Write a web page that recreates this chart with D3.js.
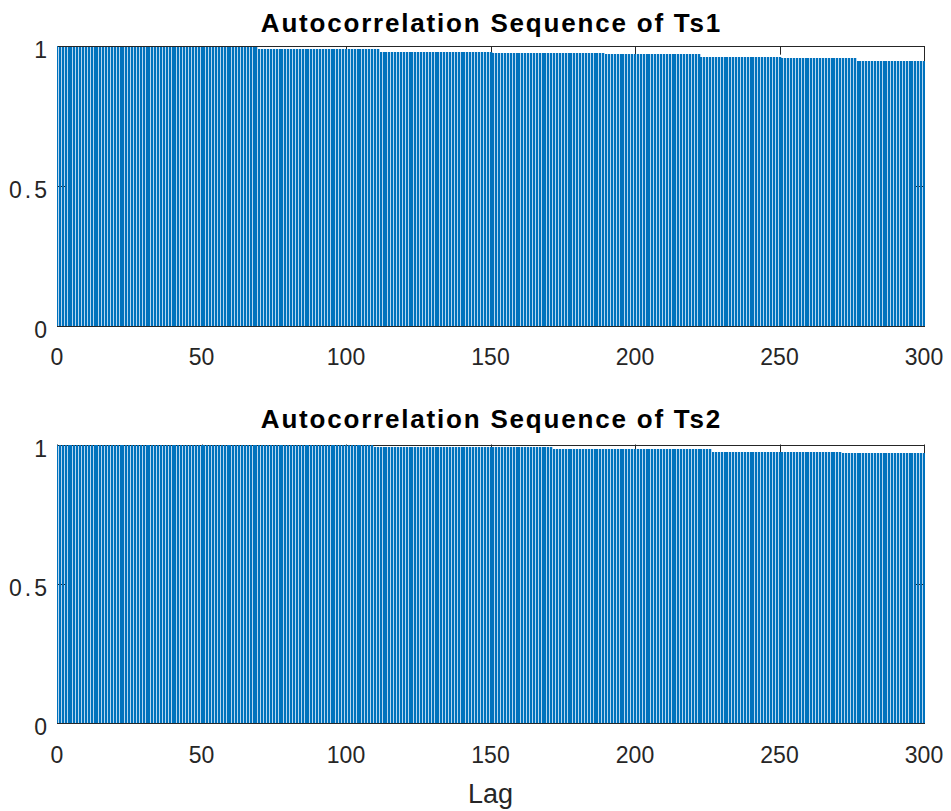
<!DOCTYPE html>
<html>
<head>
<meta charset="utf-8">
<script src="https://cdn.jsdelivr.net/npm/d3@7"></script>
<style>
html, body { margin: 0; padding: 0; background: #fff; }
svg { display: block; }
text { font-family: "Liberation Sans", Arial, Helvetica, sans-serif; }
</style>
</head>
<body>
<svg id="chart" width="951" height="811"></svg>
<script>
// ---- data ----
const titles = ["Autocorrelation Sequence of Ts1", "Autocorrelation Sequence of Ts2"];
const xLabel = "Lag";
const xTicks = [0, 50, 100, 150, 200, 250, 300];
const yTicks = [0, 0.5, 1];
const yTickLabels = ["0", "0.5", "1"];

const acfTs1 = [
1,.998,.998,.998,.998,.998,.998,.998,.998,.998,
.998,.998,.998,.998,.998,.998,.998,.998,.998,.998,
.998,.998,.998,.998,.998,.998,.998,.998,.998,.998,
.998,.998,.998,.998,.998,.998,.998,.998,.998,.998,
.998,.998,.998,.998,.998,.998,.998,.998,.998,.998,
.998,.998,.998,.998,.998,.998,.998,.998,.998,.998,
.998,.998,.998,.998,.998,.998,.998,.998,.998,.998,
.988,.988,.988,.988,.988,.988,.988,.988,.988,.988,
.988,.988,.988,.988,.988,.988,.988,.988,.988,.988,
.988,.988,.988,.988,.988,.988,.988,.988,.988,.988,
.988,.988,.988,.988,.988,.988,.988,.988,.988,.988,
.988,.988,.980,.980,.980,.980,.980,.980,.980,.980,
.980,.980,.980,.980,.980,.980,.980,.980,.980,.980,
.980,.980,.980,.980,.980,.980,.980,.980,.980,.980,
.980,.980,.980,.980,.980,.980,.980,.980,.980,.980,
.980,.974,.974,.974,.974,.974,.974,.974,.974,.974,
.974,.974,.974,.974,.974,.974,.974,.974,.974,.974,
.974,.974,.974,.974,.974,.974,.974,.974,.974,.974,
.974,.974,.974,.974,.974,.974,.974,.974,.974,.974,
.971,.971,.971,.971,.971,.971,.971,.971,.971,.971,
.971,.971,.971,.971,.971,.971,.971,.971,.971,.971,
.971,.971,.971,.971,.971,.971,.971,.971,.971,.971,
.971,.971,.971,.962,.962,.962,.962,.962,.962,.962,
.962,.962,.962,.962,.962,.962,.962,.962,.962,.962,
.962,.962,.962,.962,.962,.962,.962,.962,.962,.962,
.962,.956,.956,.956,.956,.956,.956,.956,.956,.956,
.956,.956,.956,.956,.956,.956,.956,.956,.956,.956,
.956,.956,.956,.956,.956,.956,.956,.948,.948,.948,
.948,.948,.948,.948,.948,.948,.948,.948,.948,.948,
.948,.948,.948,.948,.948,.948,.948,.948,.948,.948,
.948
];

const acfTs2 = [
1,.999,.999,.999,.999,.999,.999,.999,.999,.999,
.999,.999,.999,.999,.999,.999,.999,.999,.999,.999,
.999,.999,.999,.999,.999,.999,.999,.999,.999,.999,
.999,.999,.999,.999,.999,.999,.999,.999,.999,.999,
.999,.999,.999,.999,.999,.999,.999,.999,.999,.999,
.999,.999,.999,.999,.999,.999,.999,.999,.999,.999,
.999,.999,.999,.999,.999,.999,.999,.999,.999,.999,
.999,.999,.999,.999,.999,.999,.999,.999,.999,.999,
.999,.999,.999,.999,.999,.999,.999,.999,.999,.999,
.999,.999,.999,.999,.999,.999,.999,.999,.999,.999,
.999,.999,.999,.999,.999,.999,.999,.999,.999,.999,
.991,.991,.991,.991,.991,.991,.991,.991,.991,.991,
.991,.991,.991,.991,.991,.991,.991,.991,.991,.991,
.991,.991,.991,.991,.991,.991,.991,.991,.991,.991,
.991,.991,.991,.991,.991,.991,.991,.991,.991,.991,
.991,.991,.991,.991,.991,.991,.991,.991,.991,.991,
.991,.991,.991,.991,.991,.991,.991,.991,.991,.991,
.991,.991,.983,.983,.983,.983,.983,.983,.983,.983,
.983,.983,.983,.983,.983,.983,.983,.983,.983,.983,
.983,.983,.983,.983,.983,.983,.983,.983,.983,.983,
.983,.983,.983,.983,.983,.983,.983,.983,.983,.983,
.983,.983,.983,.983,.983,.983,.983,.983,.983,.983,
.983,.983,.983,.983,.983,.983,.983,.974,.974,.974,
.974,.974,.974,.974,.974,.974,.974,.974,.974,.974,
.974,.974,.974,.974,.974,.974,.974,.974,.974,.974,
.974,.974,.974,.974,.974,.974,.974,.974,.974,.974,
.974,.974,.974,.974,.974,.974,.974,.974,.974,.974,
.974,.974,.968,.968,.968,.968,.968,.968,.968,.968,
.968,.968,.968,.968,.968,.968,.968,.968,.968,.968,
.968,.968,.968,.968,.968,.968,.968,.968,.968,.968,
.968
];

const series = [acfTs1, acfTs2];

// ---- layout ----
const svg = d3.select("#chart");
const axisColor = "#262626";
const barColor = "#0072BD";
const gapColor = "#b6d6f0";
const left = 57, right = 924;
const panels = [
  { top: 46, bottom: 326, titleY: 32, tickLabelY: 365 },
  { top: 444.5, bottom: 723, titleY: 428, tickLabelY: 763 }
];

panels.forEach((p, pi) => {
  const data = series[pi];
  const lags = d3.range(data.length);
  const x = d3.scaleLinear().domain([0, 300]).range([left, right]);
  const y = d3.scaleLinear().domain([0, 1]).range([p.bottom, p.top]);
  const tickLen = 8.7;
  const y0 = Math.round(y(0));

  const g = svg.append("g");
  const clipId = "clip" + pi;
  svg.append("clipPath").attr("id", clipId)
    .append("rect").attr("x", left).attr("y", p.top - 1)
    .attr("width", right - left + 1).attr("height", p.bottom - p.top + 2);

  const barLeft = d => Math.round(x(d) - 1);

  // light under-layer (antialiased gaps between bars)
  g.append("g").attr("clip-path", `url(#${clipId})`).attr("shape-rendering", "crispEdges")
    .selectAll("rect").data(lags).join("rect")
    .attr("x", d => barLeft(d))
    .attr("width", 3)
    .attr("y", d => Math.round(y(data[d])))
    .attr("height", d => y0 - Math.round(y(data[d])))
    .attr("fill", gapColor);

  // axes box (MATLAB layer bottom: under the bars)
  const ax = g.append("g").attr("stroke", axisColor).attr("stroke-width", 1).attr("fill", "none");
  ax.append("rect").attr("x", left + 0.5).attr("y", Math.round(p.top) + 0.5)
    .attr("width", right - left).attr("height", Math.round(p.bottom) - Math.round(p.top));
  xTicks.forEach(t => {
    const xx = Math.round(x(t)) + 0.5;
    ax.append("line").attr("x1", xx).attr("x2", xx).attr("y1", p.top).attr("y2", p.top + tickLen);
    ax.append("line").attr("x1", xx).attr("x2", xx).attr("y1", p.bottom).attr("y2", p.bottom - tickLen);
  });
  yTicks.forEach(t => {
    const yy = Math.round(y(t)) + 0.5;
    ax.append("line").attr("x1", left).attr("x2", left + tickLen).attr("y1", yy).attr("y2", yy);
    ax.append("line").attr("x1", right).attr("x2", right - tickLen).attr("y1", yy).attr("y2", yy);
  });

  // bars
  g.append("g").attr("clip-path", `url(#${clipId})`).attr("shape-rendering", "crispEdges")
    .selectAll("rect").data(lags).join("rect")
    .attr("x", d => barLeft(d))
    .attr("width", 2)
    .attr("y", d => Math.round(y(data[d])))
    .attr("height", d => y0 - Math.round(y(data[d])))
    .attr("fill", barColor);

  // tick labels
  g.append("g").selectAll("text").data(xTicks).join("text")
    .attr("x", d => x(d)).attr("y", p.tickLabelY)
    .attr("text-anchor", "middle").attr("font-size", 23).attr("fill", axisColor)
    .text(d => d);
  g.append("g").selectAll("text").data(yTicks).join("text")
    .attr("x", 50).attr("y", d => y(d) + 12)
    .attr("text-anchor", "end").attr("font-size", 23).attr("fill", axisColor)
    .attr("letter-spacing", 3)
    .text((d, i) => yTickLabels[i]);

  // title
  g.append("text").attr("x", (left + right) / 2 + 1).attr("y", p.titleY)
    .attr("text-anchor", "middle").attr("font-size", 26).attr("font-weight", "bold")
    .attr("fill", "#000").attr("letter-spacing", 1.8)
    .text(titles[pi]);
});

svg.append("text").attr("x", (left + right) / 2).attr("y", 803)
  .attr("text-anchor", "middle").attr("font-size", 27).attr("fill", axisColor)
  .text(xLabel);
</script>
</body>
</html>
